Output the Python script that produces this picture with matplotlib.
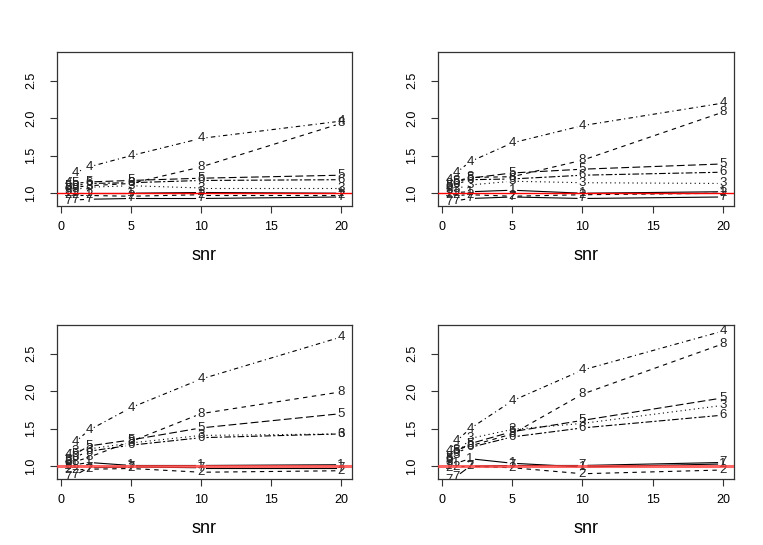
import matplotlib
matplotlib.use("Agg")
import matplotlib.pyplot as plt
import numpy as np

plt.rcParams['font.family'] = ['Liberation Sans', 'DejaVu Sans']

snr = [0.5, 1, 2, 5, 10, 20]
labels = ['1', '2', '3', '4', '5', '6', '7', '8']

# one list of 8 series per panel, in the order 1..8
panel_tl = [
    [1.00, 1.00, 1.00, 1.00, 1.01, 1.00],
    [0.97, 0.97, 0.97, 0.96, 0.98, 0.98],
    [1.03, 1.05, 1.08, 1.10, 1.07, 1.07],
    [1.14, 1.27, 1.35, 1.50, 1.73, 1.96],
    [1.10, 1.13, 1.15, 1.17, 1.20, 1.24],
    [1.06, 1.10, 1.13, 1.14, 1.17, 1.18],
    [0.90, 0.91, 0.92, 0.93, 0.93, 0.95],
    [1.08, 1.08, 1.10, 1.13, 1.35, 1.93],
]
panel_tr = [
    [1.00, 1.01, 1.02, 1.04, 1.00, 1.02],
    [0.97, 0.97, 0.98, 0.96, 0.98, 1.00],
    [1.04, 1.06, 1.11, 1.16, 1.14, 1.13],
    [1.17, 1.27, 1.42, 1.67, 1.90, 2.20],
    [1.10, 1.15, 1.20, 1.27, 1.32, 1.39],
    [1.07, 1.12, 1.18, 1.19, 1.24, 1.28],
    [0.88, 0.90, 0.93, 0.95, 0.93, 0.95],
    [1.12, 1.16, 1.21, 1.22, 1.44, 2.08],
]
panel_bl = [
    [1.00, 1.02, 1.05, 1.01, 1.01, 1.02],
    [0.95, 0.95, 0.96, 0.97, 0.92, 0.94],
    [1.06, 1.20, 1.23, 1.31, 1.41, 1.43],
    [1.15, 1.32, 1.48, 1.78, 2.16, 2.72],
    [1.08, 1.16, 1.27, 1.35, 1.51, 1.70],
    [1.04, 1.12, 1.20, 1.28, 1.38, 1.43],
    [0.86, 0.88, 0.98, 0.99, 0.98, 0.98],
    [1.02, 1.06, 1.12, 1.33, 1.70, 1.99],
]
panel_br = [
    [1.00, 1.04, 1.10, 1.04, 0.99, 1.03],
    [0.97, 0.99, 1.00, 0.98, 0.90, 0.95],
    [1.05, 1.15, 1.37, 1.49, 1.57, 1.81],
    [1.20, 1.33, 1.50, 1.87, 2.28, 2.80],
    [1.10, 1.20, 1.30, 1.46, 1.61, 1.91],
    [1.08, 1.18, 1.25, 1.39, 1.51, 1.68],
    [0.82, 0.86, 1.00, 1.01, 1.01, 1.05],
    [1.12, 1.22, 1.27, 1.43, 1.96, 2.63],
]

# R lty 1..6, recycled
ltys = ['-', (0, (4, 4)), (0, (1, 3)), (0, (1, 3, 4, 3)),
        (0, (7, 3)), (0, (2, 2, 6, 2))]

fig = plt.figure(figsize=(7.63, 5.45), dpi=100)
W, H = 763, 545
boxes = [(57, 52, 352, 206), (438, 52, 734, 206),
         (57, 325, 352, 479), (438, 325, 734, 479)]
panels = [panel_tl, panel_tr, panel_bl, panel_br]


def draw_panel(ax, data, bottom_row):
    ax.set_xlim(-0.28, 20.78)
    ax.set_ylim(0.83, 2.88)
    gap = 5.5
    for i, ys in enumerate(data):
        ls = ltys[i % 6]
        pts = ax.transData.transform(np.column_stack([snr, ys]))
        for k in range(len(snr) - 1):
            p0, p1 = pts[k], pts[k + 1]
            d = p1 - p0
            L = np.hypot(*d)
            if L <= 2 * gap:
                continue
            u = d / L
            seg = ax.transData.inverted().transform([p0 + u * gap, p1 - u * gap])
            ax.plot(seg[:, 0], seg[:, 1], color='black', lw=0.8, linestyle=ls)
        for x, y in zip(snr, ys):
            ax.text(x, y, labels[i], ha='center', va='center', fontsize=9.5,
                    color='#222222', clip_on=True)
    if bottom_row:
        ax.axhline(1.0, color='#ff4040', lw=2.2, alpha=0.8, zorder=5)
    else:
        ax.axhline(1.0, color='red', lw=1.0, zorder=5)
    ax.set_xticks([0, 5, 10, 15, 20])
    ax.set_yticks([1.0, 1.5, 2.0, 2.5])
    ax.set_yticklabels(['1.0', '1.5', '2.0', '2.5'], rotation=90, va='center')
    ax.tick_params(direction='out', length=5, width=0.8, labelsize=9,
                   color='#333333')
    ax.tick_params(axis='x', pad=6)
    ax.tick_params(axis='y', pad=9)
    for s in ax.spines.values():
        s.set_linewidth(0.9)
        s.set_color('#333333')
    ax.set_xlabel('snr', fontsize=13, labelpad=10)


for n, (box, data) in enumerate(zip(boxes, panels)):
    x0, y0, x1, y1 = box
    ax = fig.add_axes([x0 / W, 1 - y1 / H, (x1 - x0) / W, (y1 - y0) / H])
    draw_panel(ax, data, n >= 2)

fig.savefig('out.png', dpi=100)
